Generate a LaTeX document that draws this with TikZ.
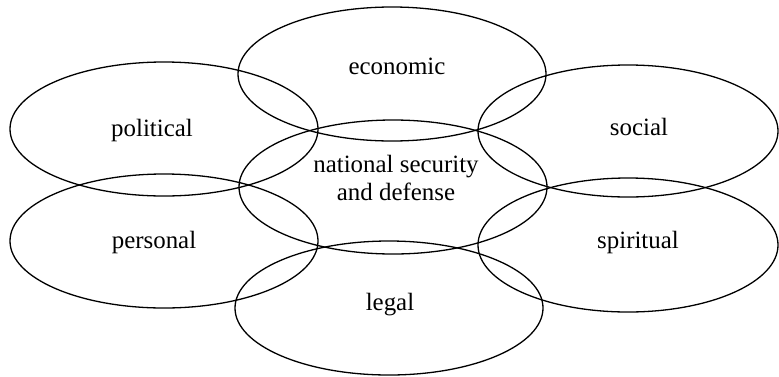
\documentclass[tikz,border=0pt]{standalone}
\usepackage{fontspec}
\setmainfont{Liberation Serif}

\begin{document}
\begin{tikzpicture}[x=1bp,y=-1bp,line width=1.3bp,
	lbl/.style={anchor=base,inner sep=0pt,font=\fontsize{25}{28}\selectfont}]
		\useasboundingbox (0,0) rectangle (779,376);

		\draw (392,74) ellipse (154bp and 67bp);
		\node[lbl] (economic) at (397,74) {economic};

		\draw (164,129) ellipse (154bp and 67bp);
		\node[lbl] (political) at (152,136) {political};

		\draw (628,131) ellipse (150bp and 66bp);
		\node[lbl] (social) at (639,135) {social};

		\draw (393,187) ellipse (154bp and 67bp);
		\node[lbl,anchor=center,align=center] (nsd) at (396,178) {national security\\and defense};

		\draw (164,241) ellipse (154bp and 67bp);
		\node[lbl] (personal) at (154,248) {personal};

		\draw (628,245) ellipse (150bp and 67bp);
		\node[lbl] (spiritual) at (638,248) {spiritual};

		\draw (389,308) ellipse (154bp and 67bp);
		\node[lbl] (legal) at (390,310) {legal};
	\end{tikzpicture}
\end{document}
